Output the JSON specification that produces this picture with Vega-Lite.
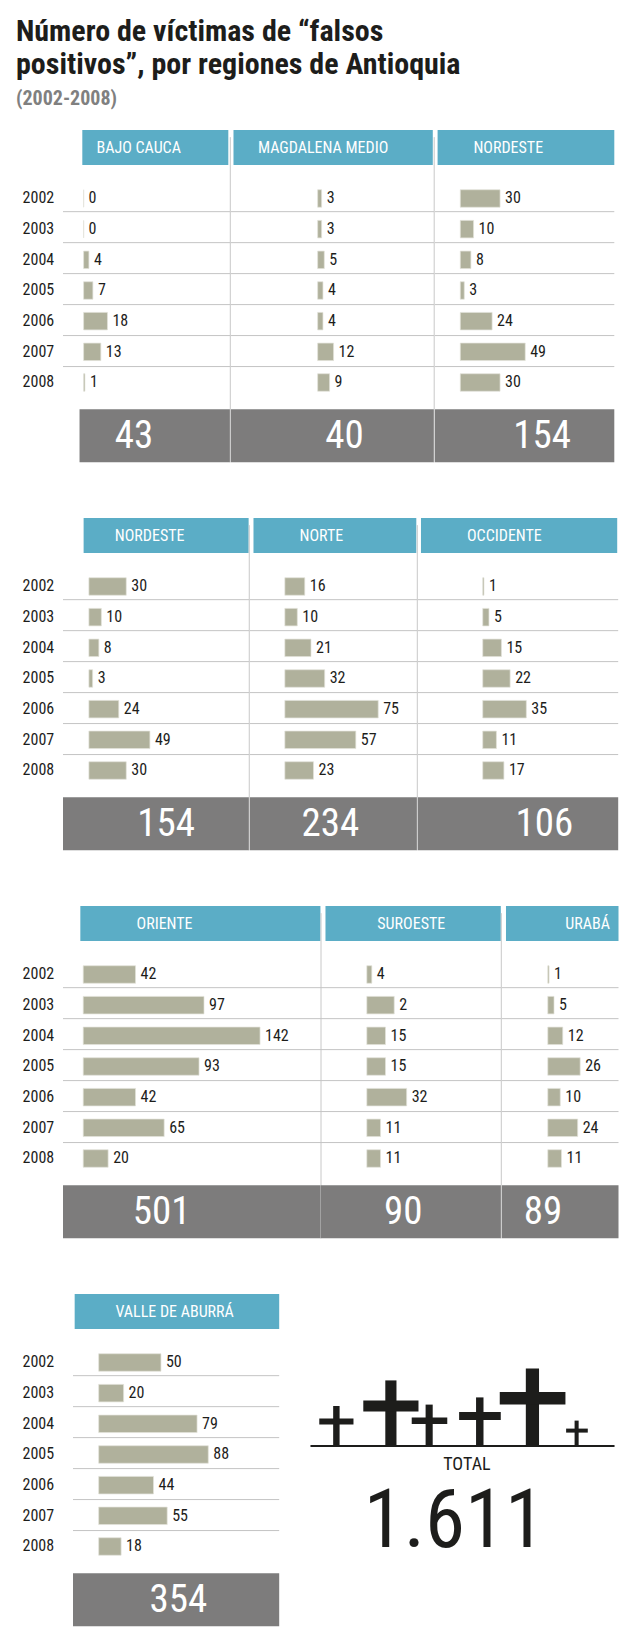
{"$schema":"https://vega.github.io/schema/vega-lite/v6.json","padding":{"left":0,"top":17,"right":0,"bottom":0},"background":"white","spacing":55,
"title":{"text":["Número de víctimas de “falsos","positivos”, por regiones de Antioquia"],"subtitle":"(2002-2008)","anchor":"start","frame":"group","dx":16,"offset":21,"font":"Roboto Condensed, Roboto","fontSize":30,"fontWeight":"bold","color":"#1d1d1b","lineHeight":33,"subtitleFont":"Roboto Condensed, Roboto","subtitleFontSize":20,"subtitleFontWeight":"bold","subtitleColor":"#808080","subtitlePadding":9},
"config":{"axis":{"disable":true},"view":{"stroke":null},"legend":{"disable":true}},
"datasets":{
"years":[{"year":2002},{"year":2003},{"year":2004},{"year":2005},{"year":2006},{"year":2007},{"year":2008}],
"lines":[{"at":2002.43},{"at":2003.44},{"at":2004.45},{"at":2005.46},{"at":2006.47},{"at":2007.48}],
"rows":[
{"p":"BAJO CAUCA","year":2002,"n":0,"b":0},{"p":"BAJO CAUCA","year":2003,"n":0,"b":0},{"p":"BAJO CAUCA","year":2004,"n":4,"b":4},{"p":"BAJO CAUCA","year":2005,"n":7,"b":7},{"p":"BAJO CAUCA","year":2006,"n":18,"b":18},{"p":"BAJO CAUCA","year":2007,"n":13,"b":13},{"p":"BAJO CAUCA","year":2008,"n":1,"b":1},
{"p":"MAGDALENA MEDIO","year":2002,"n":3,"b":3},{"p":"MAGDALENA MEDIO","year":2003,"n":3,"b":3},{"p":"MAGDALENA MEDIO","year":2004,"n":5,"b":5},{"p":"MAGDALENA MEDIO","year":2005,"n":4,"b":4},{"p":"MAGDALENA MEDIO","year":2006,"n":4,"b":4},{"p":"MAGDALENA MEDIO","year":2007,"n":12,"b":12},{"p":"MAGDALENA MEDIO","year":2008,"n":9,"b":9},
{"p":"NORDESTE","year":2002,"n":30,"b":30},{"p":"NORDESTE","year":2003,"n":10,"b":10},{"p":"NORDESTE","year":2004,"n":8,"b":8},{"p":"NORDESTE","year":2005,"n":3,"b":3},{"p":"NORDESTE","year":2006,"n":24,"b":24},{"p":"NORDESTE","year":2007,"n":49,"b":49},{"p":"NORDESTE","year":2008,"n":30,"b":30},
{"p":"NORTE","year":2002,"n":16,"b":16},{"p":"NORTE","year":2003,"n":10,"b":10},{"p":"NORTE","year":2004,"n":21,"b":21},{"p":"NORTE","year":2005,"n":32,"b":32},{"p":"NORTE","year":2006,"n":75,"b":75},{"p":"NORTE","year":2007,"n":57,"b":57},{"p":"NORTE","year":2008,"n":23,"b":23},
{"p":"OCCIDENTE","year":2002,"n":1,"b":1},{"p":"OCCIDENTE","year":2003,"n":5,"b":5},{"p":"OCCIDENTE","year":2004,"n":15,"b":15},{"p":"OCCIDENTE","year":2005,"n":22,"b":22},{"p":"OCCIDENTE","year":2006,"n":35,"b":35},{"p":"OCCIDENTE","year":2007,"n":11,"b":11},{"p":"OCCIDENTE","year":2008,"n":17,"b":17},
{"p":"ORIENTE","year":2002,"n":42,"b":42},{"p":"ORIENTE","year":2003,"n":97,"b":97},{"p":"ORIENTE","year":2004,"n":142,"b":142},{"p":"ORIENTE","year":2005,"n":93,"b":93},{"p":"ORIENTE","year":2006,"n":42,"b":42},{"p":"ORIENTE","year":2007,"n":65,"b":65},{"p":"ORIENTE","year":2008,"n":20,"b":20},
{"p":"SUROESTE","year":2002,"n":4,"b":4},{"p":"SUROESTE","year":2003,"n":2,"b":22},{"p":"SUROESTE","year":2004,"n":15,"b":15},{"p":"SUROESTE","year":2005,"n":15,"b":15},{"p":"SUROESTE","year":2006,"n":32,"b":32},{"p":"SUROESTE","year":2007,"n":11,"b":11},{"p":"SUROESTE","year":2008,"n":11,"b":11},
{"p":"URABÁ","year":2002,"n":1,"b":1},{"p":"URABÁ","year":2003,"n":5,"b":5},{"p":"URABÁ","year":2004,"n":12,"b":12},{"p":"URABÁ","year":2005,"n":26,"b":26},{"p":"URABÁ","year":2006,"n":10,"b":10},{"p":"URABÁ","year":2007,"n":24,"b":24},{"p":"URABÁ","year":2008,"n":11,"b":11},
{"p":"VALLE DE ABURRÁ","year":2002,"n":50,"b":50},{"p":"VALLE DE ABURRÁ","year":2003,"n":20,"b":20},{"p":"VALLE DE ABURRÁ","year":2004,"n":79,"b":79},{"p":"VALLE DE ABURRÁ","year":2005,"n":88,"b":88},{"p":"VALLE DE ABURRÁ","year":2006,"n":44,"b":44},{"p":"VALLE DE ABURRÁ","year":2007,"n":55,"b":55},{"p":"VALLE DE ABURRÁ","year":2008,"n":18,"b":18}
],
"crosses":[
{"left":9,"right":98.8,"low":-0.5,"high":0.5},
{"left":15.7,"right":17.6,"low":0,"high":20},{"left":11.6,"right":21.7,"low":10.7,"high":13.7},
{"left":31.1,"right":34.4,"low":0,"high":32.8},{"left":24.6,"right":40.9,"low":17.3,"high":22.7},
{"left":43,"right":45.1,"low":0,"high":20.7},{"left":38.9,"right":49.4,"low":11,"high":14.3},
{"left":57.9,"right":60.1,"low":0,"high":24.3},{"left":52.9,"right":65.2,"low":13,"high":17},
{"left":72.6,"right":76.5,"low":0,"high":38.8},{"left":64.9,"right":84.3,"low":20.8,"high":27},
{"left":87,"right":88.2,"low":0,"high":12.7},{"left":84.5,"right":90.9,"low":6.7,"high":8.7}
]},
"vconcat":[
{"hconcat":[
{"width":62.75,"height":333,"data":{"name":"years"},"mark":{"type":"text","dx":7,"font":"Roboto Condensed, Roboto","fontSize":16,"fill":"#1d1d1b"},"encoding":{"y":{"field":"year","type":"quantitative","scale":{"domain":[2010.625,1999.767]}},"text":{"field":"year","type":"nominal"}}},
{"width":167.3,"height":333,"data":{"name":"rows"},"transform":[{"filter":"datum.p==='BAJO CAUCA'"}],"layer":[
{"transform":[{"aggregate":[{"op":"sum","field":"n","as":"total"}],"groupby":["p"]}],"layer":[
{"mark":{"type":"rect","fill":"#5badc6"},"encoding":{"x":{"datum":-0.98,"scale":{"domain":[-15.56,110.75]}},"x2":{"datum":109.25},"y":{"datum":1999.767,"scale":{"domain":[2010.625,1999.767]}},"y2":{"datum":2000.908}}},
{"mark":{"type":"text","font":"Roboto Condensed, Roboto","fontSize":16,"fill":"white"},"encoding":{"x":{"datum":41.6,"scale":{"domain":[-15.56,110.75]}},"y":{"datum":2000.338,"scale":{"domain":[2010.625,1999.767]}},"text":{"field":"p"}}},
{"mark":{"type":"rect","fill":"#7d7c7c"},"encoding":{"x":{"datum":-3.08,"scale":{"domain":[-15.56,110.75]}},"x2":{"datum":110.75},"y":{"datum":2008.874,"scale":{"domain":[2010.625,1999.767]}},"y2":{"datum":2010.6}}},
{"mark":{"type":"text","font":"Roboto Condensed, Roboto","fontSize":39,"fill":"white"},"encoding":{"x":{"datum":38,"scale":{"domain":[-15.56,110.75]}},"y":{"datum":2009.744,"scale":{"domain":[2010.625,1999.767]}},"text":{"field":"total","type":"nominal"}}},
{"mark":{"type":"rule","stroke":"#c8c8c8","strokeWidth":1},"encoding":{"x":{"datum":110.75,"scale":{"domain":[-15.56,110.75]}},"y":{"datum":2000,"scale":{"domain":[2010.625,1999.767]}},"y2":{"datum":2010.6}}}
]},
{"data":{"name":"lines"},"mark":{"type":"rule","stroke":"#c4c4c4","strokeWidth":1},"encoding":{"y":{"field":"at","type":"quantitative","scale":{"domain":[2010.625,1999.767]}}}},
{"mark":{"type":"bar","orient":"horizontal","height":17.5,"fill":"#b0b19c","stroke":"#e2e2da","strokeWidth":0.7},"encoding":{"y":{"field":"year","type":"quantitative","scale":{"padding":0,"domain":[2010.625,1999.767]}},"x":{"field":"b","type":"quantitative","scale":{"domain":[-15.56,110.75]}},"x2":{"datum":0}}},
{"mark":{"type":"text","align":"left","dx":5,"font":"Roboto Condensed, Roboto","fontSize":16,"fill":"#1d1d1b"},"encoding":{"y":{"field":"year","type":"quantitative","scale":{"domain":[2010.625,1999.767]}},"x":{"field":"b","type":"quantitative","scale":{"domain":[-15.56,110.75]}},"text":{"field":"n","type":"nominal"}}}
]},
{"width":203.2,"height":333,"data":{"name":"rows"},"transform":[{"filter":"datum.p==='MAGDALENA MEDIO'"}],"layer":[
{"transform":[{"aggregate":[{"op":"sum","field":"n","as":"total"}],"groupby":["p"]}],"layer":[
{"mark":{"type":"rect","fill":"#5badc6"},"encoding":{"x":{"datum":-63.53,"scale":{"domain":[-65.41,87.96]}},"x2":{"datum":86.9},"y":{"datum":1999.767,"scale":{"domain":[2010.625,1999.767]}},"y2":{"datum":2000.908}}},
{"mark":{"type":"text","font":"Roboto Condensed, Roboto","fontSize":16,"fill":"white"},"encoding":{"x":{"datum":4.1,"scale":{"domain":[-65.41,87.96]}},"y":{"datum":2000.338,"scale":{"domain":[2010.625,1999.767]}},"text":{"field":"p"}}},
{"mark":{"type":"rect","fill":"#7d7c7c"},"encoding":{"x":{"datum":-65.41,"scale":{"domain":[-65.41,87.96]}},"x2":{"datum":87.96},"y":{"datum":2008.874,"scale":{"domain":[2010.625,1999.767]}},"y2":{"datum":2010.6}}},
{"mark":{"type":"text","font":"Roboto Condensed, Roboto","fontSize":39,"fill":"white"},"encoding":{"x":{"datum":20.2,"scale":{"domain":[-65.41,87.96]}},"y":{"datum":2009.744,"scale":{"domain":[2010.625,1999.767]}},"text":{"field":"total","type":"nominal"}}},
{"mark":{"type":"rule","stroke":"#c8c8c8","strokeWidth":1},"encoding":{"x":{"datum":87.96,"scale":{"domain":[-65.41,87.96]}},"y":{"datum":2000,"scale":{"domain":[2010.625,1999.767]}},"y2":{"datum":2010.6}}}
]},
{"data":{"name":"lines"},"mark":{"type":"rule","stroke":"#c4c4c4","strokeWidth":1},"encoding":{"y":{"field":"at","type":"quantitative","scale":{"domain":[2010.625,1999.767]}}}},
{"mark":{"type":"bar","orient":"horizontal","height":17.5,"fill":"#b0b19c","stroke":"#e2e2da","strokeWidth":0.7},"encoding":{"y":{"field":"year","type":"quantitative","scale":{"padding":0,"domain":[2010.625,1999.767]}},"x":{"field":"b","type":"quantitative","scale":{"domain":[-65.41,87.96]}},"x2":{"datum":0}}},
{"mark":{"type":"text","align":"left","dx":5,"font":"Roboto Condensed, Roboto","fontSize":16,"fill":"#1d1d1b"},"encoding":{"y":{"field":"year","type":"quantitative","scale":{"domain":[2010.625,1999.767]}},"x":{"field":"b","type":"quantitative","scale":{"domain":[-65.41,87.96]}},"text":{"field":"n","type":"nominal"}}}
]},
{"width":179.3,"height":333,"data":{"name":"rows"},"transform":[{"filter":"datum.p==='NORDESTE'"}],"layer":[
{"transform":[{"aggregate":[{"op":"sum","field":"n","as":"total"}],"groupby":["p"]}],"layer":[
{"mark":{"type":"rect","fill":"#5badc6"},"encoding":{"x":{"datum":-17.14,"scale":{"domain":[-19.1,116.24]}},"x2":{"datum":116.24},"y":{"datum":1999.767,"scale":{"domain":[2010.625,1999.767]}},"y2":{"datum":2000.908}}},
{"mark":{"type":"text","font":"Roboto Condensed, Roboto","fontSize":16,"fill":"white"},"encoding":{"x":{"datum":36.2,"scale":{"domain":[-19.1,116.24]}},"y":{"datum":2000.338,"scale":{"domain":[2010.625,1999.767]}},"text":{"field":"p"}}},
{"mark":{"type":"rect","fill":"#7d7c7c"},"encoding":{"x":{"datum":-19.1,"scale":{"domain":[-19.1,116.24]}},"x2":{"datum":116.24},"y":{"datum":2008.874,"scale":{"domain":[2010.625,1999.767]}},"y2":{"datum":2010.6}}},
{"mark":{"type":"text","font":"Roboto Condensed, Roboto","fontSize":39,"fill":"white"},"encoding":{"x":{"datum":61.7,"scale":{"domain":[-19.1,116.24]}},"y":{"datum":2009.744,"scale":{"domain":[2010.625,1999.767]}},"text":{"field":"total","type":"nominal"}}}
]},
{"data":{"name":"lines"},"mark":{"type":"rule","stroke":"#c4c4c4","strokeWidth":1},"encoding":{"y":{"field":"at","type":"quantitative","scale":{"domain":[2010.625,1999.767]}}}},
{"mark":{"type":"bar","orient":"horizontal","height":17.5,"fill":"#b0b19c","stroke":"#e2e2da","strokeWidth":0.7},"encoding":{"y":{"field":"year","type":"quantitative","scale":{"padding":0,"domain":[2010.625,1999.767]}},"x":{"field":"b","type":"quantitative","scale":{"domain":[-19.1,116.24]}},"x2":{"datum":0}}},
{"mark":{"type":"text","align":"left","dx":5,"font":"Roboto Condensed, Roboto","fontSize":16,"fill":"#1d1d1b"},"encoding":{"y":{"field":"year","type":"quantitative","scale":{"domain":[2010.625,1999.767]}},"x":{"field":"b","type":"quantitative","scale":{"domain":[-19.1,116.24]}},"text":{"field":"n","type":"nominal"}}}
]}
],"spacing":0,"bounds":"flush"},
{"hconcat":[
{"width":62.75,"height":333,"data":{"name":"years"},"mark":{"type":"text","dx":7,"font":"Roboto Condensed, Roboto","fontSize":16,"fill":"#1d1d1b"},"encoding":{"y":{"field":"year","type":"quantitative","scale":{"domain":[2010.625,1999.767]}},"text":{"field":"year","type":"nominal"}}},
{"width":186.25,"height":333,"data":{"name":"rows"},"transform":[{"filter":"datum.p==='NORDESTE'"}],"layer":[
{"transform":[{"aggregate":[{"op":"sum","field":"n","as":"total"}],"groupby":["p"]}],"layer":[
{"mark":{"type":"rect","fill":"#5badc6"},"encoding":{"x":{"datum":-4.24,"scale":{"domain":[-20.8,128.8]}},"x2":{"datum":128.3},"y":{"datum":1999.767,"scale":{"domain":[2010.625,1999.767]}},"y2":{"datum":2000.908}}},
{"mark":{"type":"text","font":"Roboto Condensed, Roboto","fontSize":16,"fill":"white"},"encoding":{"x":{"datum":48.8,"scale":{"domain":[-20.8,128.8]}},"y":{"datum":2000.338,"scale":{"domain":[2010.625,1999.767]}},"text":{"field":"p"}}},
{"mark":{"type":"rect","fill":"#7d7c7c"},"encoding":{"x":{"datum":-20.8,"scale":{"domain":[-20.8,128.8]}},"x2":{"datum":128.8},"y":{"datum":2008.874,"scale":{"domain":[2010.625,1999.767]}},"y2":{"datum":2010.6}}},
{"mark":{"type":"text","font":"Roboto Condensed, Roboto","fontSize":39,"fill":"white"},"encoding":{"x":{"datum":62,"scale":{"domain":[-20.8,128.8]}},"y":{"datum":2009.744,"scale":{"domain":[2010.625,1999.767]}},"text":{"field":"total","type":"nominal"}}},
{"mark":{"type":"rule","stroke":"#c8c8c8","strokeWidth":1},"encoding":{"x":{"datum":128.8,"scale":{"domain":[-20.8,128.8]}},"y":{"datum":2000,"scale":{"domain":[2010.625,1999.767]}},"y2":{"datum":2010.6}}}
]},
{"data":{"name":"lines"},"mark":{"type":"rule","stroke":"#c4c4c4","strokeWidth":1},"encoding":{"y":{"field":"at","type":"quantitative","scale":{"domain":[2010.625,1999.767]}}}},
{"mark":{"type":"bar","orient":"horizontal","height":17.5,"fill":"#b0b19c","stroke":"#e2e2da","strokeWidth":0.7},"encoding":{"y":{"field":"year","type":"quantitative","scale":{"padding":0,"domain":[2010.625,1999.767]}},"x":{"field":"b","type":"quantitative","scale":{"domain":[-20.8,128.8]}},"x2":{"datum":0}}},
{"mark":{"type":"text","align":"left","dx":5,"font":"Roboto Condensed, Roboto","fontSize":16,"fill":"#1d1d1b"},"encoding":{"y":{"field":"year","type":"quantitative","scale":{"domain":[2010.625,1999.767]}},"x":{"field":"b","type":"quantitative","scale":{"domain":[-20.8,128.8]}},"text":{"field":"n","type":"nominal"}}}
]},
{"width":167.3,"height":333,"data":{"name":"rows"},"transform":[{"filter":"datum.p==='NORTE'"}],"layer":[
{"transform":[{"aggregate":[{"op":"sum","field":"n","as":"total"}],"groupby":["p"]}],"layer":[
{"mark":{"type":"rect","fill":"#5badc6"},"encoding":{"x":{"datum":-25.2,"scale":{"domain":[-28,106.4]}},"x2":{"datum":105.6},"y":{"datum":1999.767,"scale":{"domain":[2010.625,1999.767]}},"y2":{"datum":2000.908}}},
{"mark":{"type":"text","font":"Roboto Condensed, Roboto","fontSize":16,"fill":"white"},"encoding":{"x":{"datum":29.3,"scale":{"domain":[-28,106.4]}},"y":{"datum":2000.338,"scale":{"domain":[2010.625,1999.767]}},"text":{"field":"p"}}},
{"mark":{"type":"rect","fill":"#7d7c7c"},"encoding":{"x":{"datum":-28,"scale":{"domain":[-28,106.4]}},"x2":{"datum":106.4},"y":{"datum":2008.874,"scale":{"domain":[2010.625,1999.767]}},"y2":{"datum":2010.6}}},
{"mark":{"type":"text","font":"Roboto Condensed, Roboto","fontSize":39,"fill":"white"},"encoding":{"x":{"datum":36.5,"scale":{"domain":[-28,106.4]}},"y":{"datum":2009.744,"scale":{"domain":[2010.625,1999.767]}},"text":{"field":"total","type":"nominal"}}},
{"mark":{"type":"rule","stroke":"#c8c8c8","strokeWidth":1},"encoding":{"x":{"datum":106.4,"scale":{"domain":[-28,106.4]}},"y":{"datum":2000,"scale":{"domain":[2010.625,1999.767]}},"y2":{"datum":2010.6}}}
]},
{"data":{"name":"lines"},"mark":{"type":"rule","stroke":"#c4c4c4","strokeWidth":1},"encoding":{"y":{"field":"at","type":"quantitative","scale":{"domain":[2010.625,1999.767]}}}},
{"mark":{"type":"bar","orient":"horizontal","height":17.5,"fill":"#b0b19c","stroke":"#e2e2da","strokeWidth":0.7},"encoding":{"y":{"field":"year","type":"quantitative","scale":{"padding":0,"domain":[2010.625,1999.767]}},"x":{"field":"b","type":"quantitative","scale":{"domain":[-28,106.4]}},"x2":{"datum":0}}},
{"mark":{"type":"text","align":"left","dx":5,"font":"Roboto Condensed, Roboto","fontSize":16,"fill":"#1d1d1b"},"encoding":{"y":{"field":"year","type":"quantitative","scale":{"domain":[2010.625,1999.767]}},"x":{"field":"b","type":"quantitative","scale":{"domain":[-28,106.4]}},"text":{"field":"n","type":"nominal"}}}
]},
{"width":200.2,"height":333,"data":{"name":"rows"},"transform":[{"filter":"datum.p==='OCCIDENTE'"}],"layer":[
{"transform":[{"aggregate":[{"op":"sum","field":"n","as":"total"}],"groupby":["p"]}],"layer":[
{"mark":{"type":"rect","fill":"#5badc6"},"encoding":{"x":{"datum":-49.6,"scale":{"domain":[-52,108.8]}},"x2":{"datum":108},"y":{"datum":1999.767,"scale":{"domain":[2010.625,1999.767]}},"y2":{"datum":2000.908}}},
{"mark":{"type":"text","font":"Roboto Condensed, Roboto","fontSize":16,"fill":"white"},"encoding":{"x":{"datum":17.4,"scale":{"domain":[-52,108.8]}},"y":{"datum":2000.338,"scale":{"domain":[2010.625,1999.767]}},"text":{"field":"p"}}},
{"mark":{"type":"rect","fill":"#7d7c7c"},"encoding":{"x":{"datum":-52,"scale":{"domain":[-52,108.8]}},"x2":{"datum":108.8},"y":{"datum":2008.874,"scale":{"domain":[2010.625,1999.767]}},"y2":{"datum":2010.6}}},
{"mark":{"type":"text","font":"Roboto Condensed, Roboto","fontSize":39,"fill":"white"},"encoding":{"x":{"datum":49.5,"scale":{"domain":[-52,108.8]}},"y":{"datum":2009.744,"scale":{"domain":[2010.625,1999.767]}},"text":{"field":"total","type":"nominal"}}}
]},
{"data":{"name":"lines"},"mark":{"type":"rule","stroke":"#c4c4c4","strokeWidth":1},"encoding":{"y":{"field":"at","type":"quantitative","scale":{"domain":[2010.625,1999.767]}}}},
{"mark":{"type":"bar","orient":"horizontal","height":17.5,"fill":"#b0b19c","stroke":"#e2e2da","strokeWidth":0.7},"encoding":{"y":{"field":"year","type":"quantitative","scale":{"padding":0,"domain":[2010.625,1999.767]}},"x":{"field":"b","type":"quantitative","scale":{"domain":[-52,108.8]}},"x2":{"datum":0}}},
{"mark":{"type":"text","align":"left","dx":5,"font":"Roboto Condensed, Roboto","fontSize":16,"fill":"#1d1d1b"},"encoding":{"y":{"field":"year","type":"quantitative","scale":{"domain":[2010.625,1999.767]}},"x":{"field":"b","type":"quantitative","scale":{"domain":[-52,108.8]}},"text":{"field":"n","type":"nominal"}}}
]}
],"spacing":0,"bounds":"flush"},
{"hconcat":[
{"width":62.75,"height":333,"data":{"name":"years"},"mark":{"type":"text","dx":7,"font":"Roboto Condensed, Roboto","fontSize":16,"fill":"#1d1d1b"},"encoding":{"y":{"field":"year","type":"quantitative","scale":{"domain":[2010.625,1999.767]}},"text":{"field":"year","type":"nominal"}}},
{"width":258,"height":333,"data":{"name":"rows"},"transform":[{"filter":"datum.p==='ORIENTE'"}],"layer":[
{"transform":[{"aggregate":[{"op":"sum","field":"n","as":"total"}],"groupby":["p"]}],"layer":[
{"mark":{"type":"rect","fill":"#5badc6"},"encoding":{"x":{"datum":-2.32,"scale":{"domain":[-16.24,190.96]}},"x2":{"datum":190.5},"y":{"datum":1999.767,"scale":{"domain":[2010.625,1999.767]}},"y2":{"datum":2000.908}}},
{"mark":{"type":"text","font":"Roboto Condensed, Roboto","fontSize":16,"fill":"white"},"encoding":{"x":{"datum":65.3,"scale":{"domain":[-16.24,190.96]}},"y":{"datum":2000.338,"scale":{"domain":[2010.625,1999.767]}},"text":{"field":"p"}}},
{"mark":{"type":"rect","fill":"#7d7c7c"},"encoding":{"x":{"datum":-16.24,"scale":{"domain":[-16.24,190.96]}},"x2":{"datum":190.96},"y":{"datum":2008.874,"scale":{"domain":[2010.625,1999.767]}},"y2":{"datum":2010.6}}},
{"mark":{"type":"text","font":"Roboto Condensed, Roboto","fontSize":39,"fill":"white"},"encoding":{"x":{"datum":63,"scale":{"domain":[-16.24,190.96]}},"y":{"datum":2009.744,"scale":{"domain":[2010.625,1999.767]}},"text":{"field":"total","type":"nominal"}}},
{"mark":{"type":"rule","stroke":"#c8c8c8","strokeWidth":1},"encoding":{"x":{"datum":190.96,"scale":{"domain":[-16.24,190.96]}},"y":{"datum":2000,"scale":{"domain":[2010.625,1999.767]}},"y2":{"datum":2010.6}}}
]},
{"data":{"name":"lines"},"mark":{"type":"rule","stroke":"#c4c4c4","strokeWidth":1},"encoding":{"y":{"field":"at","type":"quantitative","scale":{"domain":[2010.625,1999.767]}}}},
{"mark":{"type":"bar","orient":"horizontal","height":17.5,"fill":"#b0b19c","stroke":"#e2e2da","strokeWidth":0.7},"encoding":{"y":{"field":"year","type":"quantitative","scale":{"padding":0,"domain":[2010.625,1999.767]}},"x":{"field":"b","type":"quantitative","scale":{"domain":[-16.24,190.96]}},"x2":{"datum":0}}},
{"mark":{"type":"text","align":"left","dx":5,"font":"Roboto Condensed, Roboto","fontSize":16,"fill":"#1d1d1b"},"encoding":{"y":{"field":"year","type":"quantitative","scale":{"domain":[2010.625,1999.767]}},"x":{"field":"b","type":"quantitative","scale":{"domain":[-16.24,190.96]}},"text":{"field":"n","type":"nominal"}}}
]},
{"width":180.3,"height":333,"data":{"name":"rows"},"transform":[{"filter":"datum.p==='SUROESTE'"}],"layer":[
{"transform":[{"aggregate":[{"op":"sum","field":"n","as":"total"}],"groupby":["p"]}],"layer":[
{"mark":{"type":"rect","fill":"#5badc6"},"encoding":{"x":{"datum":-33.2,"scale":{"domain":[-36.8,108]}},"x2":{"datum":107.6},"y":{"datum":1999.767,"scale":{"domain":[2010.625,1999.767]}},"y2":{"datum":2000.908}}},
{"mark":{"type":"text","font":"Roboto Condensed, Roboto","fontSize":16,"fill":"white"},"encoding":{"x":{"datum":35.7,"scale":{"domain":[-36.8,108]}},"y":{"datum":2000.338,"scale":{"domain":[2010.625,1999.767]}},"text":{"field":"p"}}},
{"mark":{"type":"rect","fill":"#7d7c7c"},"encoding":{"x":{"datum":-36.8,"scale":{"domain":[-36.8,108]}},"x2":{"datum":108},"y":{"datum":2008.874,"scale":{"domain":[2010.625,1999.767]}},"y2":{"datum":2010.6}}},
{"mark":{"type":"text","font":"Roboto Condensed, Roboto","fontSize":39,"fill":"white"},"encoding":{"x":{"datum":29.2,"scale":{"domain":[-36.8,108]}},"y":{"datum":2009.744,"scale":{"domain":[2010.625,1999.767]}},"text":{"field":"total","type":"nominal"}}},
{"mark":{"type":"rule","stroke":"#c8c8c8","strokeWidth":1},"encoding":{"x":{"datum":108,"scale":{"domain":[-36.8,108]}},"y":{"datum":2000,"scale":{"domain":[2010.625,1999.767]}},"y2":{"datum":2010.6}}}
]},
{"data":{"name":"lines"},"mark":{"type":"rule","stroke":"#c4c4c4","strokeWidth":1},"encoding":{"y":{"field":"at","type":"quantitative","scale":{"domain":[2010.625,1999.767]}}}},
{"mark":{"type":"bar","orient":"horizontal","height":17.5,"fill":"#b0b19c","stroke":"#e2e2da","strokeWidth":0.7},"encoding":{"y":{"field":"year","type":"quantitative","scale":{"padding":0,"domain":[2010.625,1999.767]}},"x":{"field":"b","type":"quantitative","scale":{"domain":[-36.8,108]}},"x2":{"datum":0}}},
{"mark":{"type":"text","align":"left","dx":5,"font":"Roboto Condensed, Roboto","fontSize":16,"fill":"#1d1d1b"},"encoding":{"y":{"field":"year","type":"quantitative","scale":{"domain":[2010.625,1999.767]}},"x":{"field":"b","type":"quantitative","scale":{"domain":[-36.8,108]}},"text":{"field":"n","type":"nominal"}}}
]},
{"width":116.5,"height":333,"data":{"name":"rows"},"transform":[{"filter":"datum.p==='URABÁ'"}],"layer":[
{"transform":[{"aggregate":[{"op":"sum","field":"n","as":"total"}],"groupby":["p"]}],"layer":[
{"mark":{"type":"rect","fill":"#5badc6"},"encoding":{"x":{"datum":-33.6,"scale":{"domain":[-36.8,56.8]}},"x2":{"datum":56.8},"y":{"datum":1999.767,"scale":{"domain":[2010.625,1999.767]}},"y2":{"datum":2000.908}}},
{"mark":{"type":"text","font":"Roboto Condensed, Roboto","fontSize":16,"fill":"white"},"encoding":{"x":{"datum":32,"scale":{"domain":[-36.8,56.8]}},"y":{"datum":2000.338,"scale":{"domain":[2010.625,1999.767]}},"text":{"field":"p"}}},
{"mark":{"type":"rect","fill":"#7d7c7c"},"encoding":{"x":{"datum":-36.8,"scale":{"domain":[-36.8,56.8]}},"x2":{"datum":56.8},"y":{"datum":2008.874,"scale":{"domain":[2010.625,1999.767]}},"y2":{"datum":2010.6}}},
{"mark":{"type":"text","font":"Roboto Condensed, Roboto","fontSize":39,"fill":"white"},"encoding":{"x":{"datum":-3.8,"scale":{"domain":[-36.8,56.8]}},"y":{"datum":2009.744,"scale":{"domain":[2010.625,1999.767]}},"text":{"field":"total","type":"nominal"}}}
]},
{"data":{"name":"lines"},"mark":{"type":"rule","stroke":"#c4c4c4","strokeWidth":1},"encoding":{"y":{"field":"at","type":"quantitative","scale":{"domain":[2010.625,1999.767]}}}},
{"mark":{"type":"bar","orient":"horizontal","height":17.5,"fill":"#b0b19c","stroke":"#e2e2da","strokeWidth":0.7},"encoding":{"y":{"field":"year","type":"quantitative","scale":{"padding":0,"domain":[2010.625,1999.767]}},"x":{"field":"b","type":"quantitative","scale":{"domain":[-36.8,56.8]}},"x2":{"datum":0}}},
{"mark":{"type":"text","align":"left","dx":5,"font":"Roboto Condensed, Roboto","fontSize":16,"fill":"#1d1d1b"},"encoding":{"y":{"field":"year","type":"quantitative","scale":{"domain":[2010.625,1999.767]}},"x":{"field":"b","type":"quantitative","scale":{"domain":[-36.8,56.8]}},"text":{"field":"n","type":"nominal"}}}
]}
],"spacing":0,"bounds":"flush"},
{"hconcat":[
{"width":72.7,"height":333,"data":{"name":"years"},"mark":{"type":"text","dx":2,"font":"Roboto Condensed, Roboto","fontSize":16,"fill":"#1d1d1b"},"encoding":{"y":{"field":"year","type":"quantitative","scale":{"domain":[2010.625,1999.767]}},"text":{"field":"year","type":"nominal"}}},
{"width":206.2,"height":333,"data":{"name":"rows"},"transform":[{"filter":"datum.p==='VALLE DE ABURRÁ'"}],"layer":[
{"transform":[{"aggregate":[{"op":"sum","field":"n","as":"total"}],"groupby":["p"]}],"layer":[
{"mark":{"type":"rect","fill":"#5badc6"},"encoding":{"x":{"datum":-19.3,"scale":{"domain":[-20.64,144.96]}},"x2":{"datum":144.96},"y":{"datum":1999.767,"scale":{"domain":[2010.625,1999.767]}},"y2":{"datum":2000.908}}},
{"mark":{"type":"text","font":"Roboto Condensed, Roboto","fontSize":16,"fill":"white"},"encoding":{"x":{"datum":61,"scale":{"domain":[-20.64,144.96]}},"y":{"datum":2000.338,"scale":{"domain":[2010.625,1999.767]}},"text":{"field":"p"}}},
{"mark":{"type":"rect","fill":"#7d7c7c"},"encoding":{"x":{"datum":-20.64,"scale":{"domain":[-20.64,144.96]}},"x2":{"datum":144.96},"y":{"datum":2008.874,"scale":{"domain":[2010.625,1999.767]}},"y2":{"datum":2010.6}}},
{"mark":{"type":"text","font":"Roboto Condensed, Roboto","fontSize":39,"fill":"white"},"encoding":{"x":{"datum":64,"scale":{"domain":[-20.64,144.96]}},"y":{"datum":2009.744,"scale":{"domain":[2010.625,1999.767]}},"text":{"field":"total","type":"nominal"}}}
]},
{"data":{"name":"lines"},"mark":{"type":"rule","stroke":"#c4c4c4","strokeWidth":1},"encoding":{"y":{"field":"at","type":"quantitative","scale":{"domain":[2010.625,1999.767]}}}},
{"mark":{"type":"bar","orient":"horizontal","height":17.5,"fill":"#b0b19c","stroke":"#e2e2da","strokeWidth":0.7},"encoding":{"y":{"field":"year","type":"quantitative","scale":{"padding":0,"domain":[2010.625,1999.767]}},"x":{"field":"b","type":"quantitative","scale":{"domain":[-20.64,144.96]}},"x2":{"datum":0}}},
{"mark":{"type":"text","align":"left","dx":5,"font":"Roboto Condensed, Roboto","fontSize":16,"fill":"#1d1d1b"},"encoding":{"y":{"field":"year","type":"quantitative","scale":{"domain":[2010.625,1999.767]}},"x":{"field":"b","type":"quantitative","scale":{"domain":[-20.64,144.96]}},"text":{"field":"n","type":"nominal"}}}
]},
{"width":338.6,"height":333,"layer":[
{"data":{"name":"crosses"},"mark":{"type":"rect","fill":"#1d1d1b"},"encoding":{"x":{"field":"left","type":"quantitative","scale":{"domain":[0,100]}},"x2":{"field":"right"},"y":{"field":"low","type":"quantitative","scale":{"domain":[-90.5,76]}},"y2":{"field":"high"}}},
{"data":{"values":[{"label":"TOTAL","sum":"1.611"}]},"layer":[
{"mark":{"type":"text","font":"Roboto Condensed, Roboto","fontSize":18,"fill":"#1d1d1b"},"encoding":{"x":{"datum":55.2,"scale":{"domain":[0,100]}},"y":{"datum":-9.6,"scale":{"domain":[-90.5,76]}},"text":{"field":"label"}}},
{"mark":{"type":"text","font":"Roboto Condensed, Roboto","fontSize":81,"fill":"#1d1d1b"},"encoding":{"x":{"datum":51.5,"scale":{"domain":[0,100]}},"y":{"datum":-38.6,"scale":{"domain":[-90.5,76]}},"text":{"field":"sum"}}}
]}
]}
],"spacing":0,"bounds":"flush"}
]}
